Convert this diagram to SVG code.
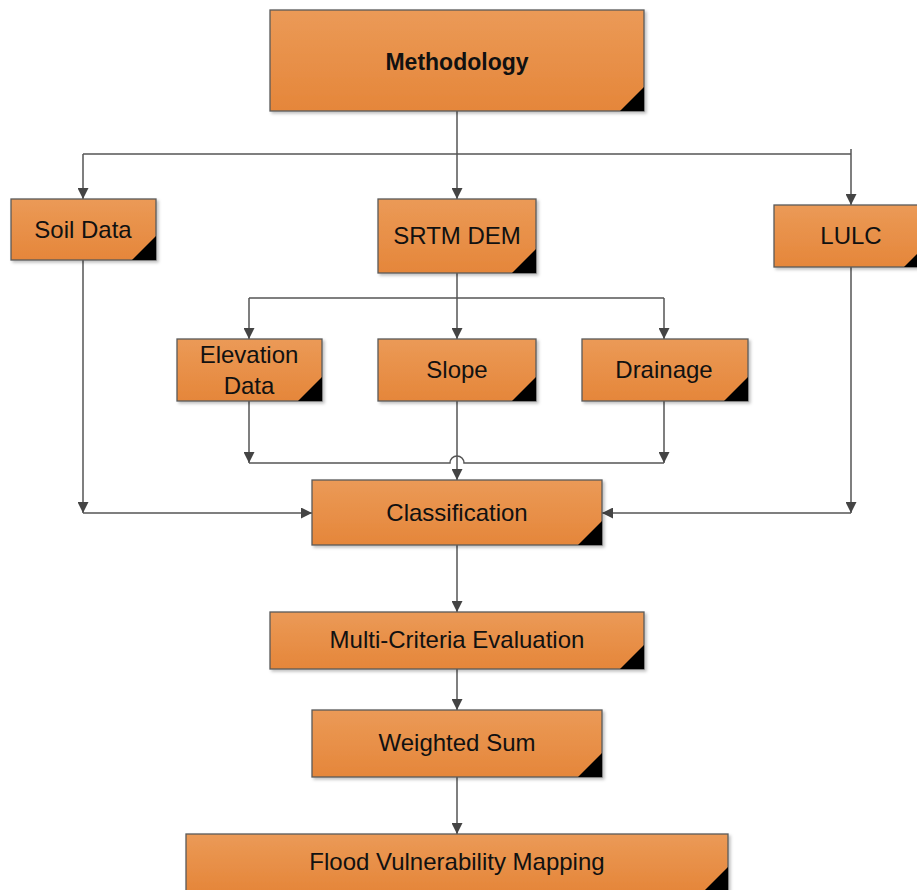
<svg xmlns="http://www.w3.org/2000/svg" width="917" height="890" viewBox="0 0 917 890">
<style>
.box{fill:url(#g);stroke:#5a5a5a;stroke-width:1.3;filter:url(#sh)}
.tri{fill:#000}
.t{font-family:"Liberation Sans",Arial,sans-serif;font-size:24px;fill:#111;text-anchor:middle}
.b{font-weight:bold;font-size:23px}
.c{fill:none;stroke:#555;stroke-width:1.5}
.a{marker-end:url(#ar)}
</style>
<defs>
<linearGradient id="g" x1="0" y1="0" x2="0" y2="1">
<stop offset="0" stop-color="#EB9A57"/>
<stop offset="1" stop-color="#E5863A"/>
</linearGradient>
<filter id="sh" x="-5%" y="-10%" width="115%" height="130%">
<feDropShadow dx="2" dy="2" stdDeviation="1.5" flood-color="#000" flood-opacity="0.25"/>
</filter>
<marker id="ar" viewBox="0 0 10 10" refX="10" refY="5" markerWidth="11" markerHeight="11" markerUnits="userSpaceOnUse" orient="auto">
<path d="M0,0 L10,5 L0,10 z" fill="#444"/>
</marker>
</defs>

<g id="connectors">
<path class="c a" d="M457,111 V199"/>
<path class="c" d="M83,154 H851"/>
<path class="c a" d="M83,154 V199"/>
<path class="c a" d="M851,149 V205"/>
<path class="c a" d="M457,273 V339"/>
<path class="c" d="M249,298 H664"/>
<path class="c a" d="M249,298 V339"/>
<path class="c a" d="M664,298 V339"/>
<path class="c a" d="M249,401 V463"/>
<path class="c a" d="M664,401 V463"/>
<path class="c" d="M249,463 H450 A7,7 0 0 1 464,463 H664"/>
<path class="c a" d="M457,401 V480"/>
<path class="c a" d="M83,260 V513"/>
<path class="c a" d="M83,513 H312"/>
<path class="c a" d="M851,267 V513"/>
<path class="c a" d="M851,513 H602"/>
<path class="c a" d="M457,545 V612"/>
<path class="c a" d="M457,669 V710"/>
<path class="c a" d="M457,777 V834"/>
</g>

<g id="methodology">
<rect class="box" x="270" y="10" width="374" height="101"/>
<polygon class="tri" points="644,87 644,111 620,111"/>
<text class="t b" x="457" y="70">Methodology</text>
</g>

<g id="soil-data">
<rect class="box" x="11" y="199" width="145" height="61"/>
<polygon class="tri" points="156,236 156,260 132,260"/>
<text class="t" x="83" y="238">Soil Data</text>
</g>

<g id="srtm-dem">
<rect class="box" x="378" y="199" width="158" height="74"/>
<polygon class="tri" points="536,249 536,273 512,273"/>
<text class="t" x="457" y="244">SRTM DEM</text>
</g>

<g id="lulc">
<rect class="box" x="774" y="205" width="154" height="62"/>
<polygon class="tri" points="928,243 928,267 904,267"/>
<text class="t" x="851" y="244">LULC</text>
</g>

<g id="elevation-data">
<rect class="box" x="177" y="339" width="145" height="62"/>
<polygon class="tri" points="322,377 322,401 298,401"/>
<text class="t" x="249" y="363">Elevation</text>
<text class="t" x="249" y="394">Data</text>
</g>

<g id="slope">
<rect class="box" x="378" y="339" width="158" height="62"/>
<polygon class="tri" points="536,377 536,401 512,401"/>
<text class="t" x="457" y="378">Slope</text>
</g>

<g id="drainage">
<rect class="box" x="582" y="339" width="166" height="62"/>
<polygon class="tri" points="748,377 748,401 724,401"/>
<text class="t" x="664" y="378">Drainage</text>
</g>

<g id="classification">
<rect class="box" x="312" y="480" width="290" height="65"/>
<polygon class="tri" points="602,521 602,545 578,545"/>
<text class="t" x="457" y="521">Classification</text>
</g>

<g id="multi-criteria">
<rect class="box" x="270" y="612" width="374" height="57"/>
<polygon class="tri" points="644,645 644,669 620,669"/>
<text class="t" x="457" y="648">Multi-Criteria Evaluation</text>
</g>

<g id="weighted-sum">
<rect class="box" x="312" y="710" width="290" height="67"/>
<polygon class="tri" points="602,753 602,777 578,777"/>
<text class="t" x="457" y="751">Weighted Sum</text>
</g>

<g id="flood-mapping">
<rect class="box" x="186" y="834" width="542" height="57"/>
<polygon class="tri" points="728,867 728,891 704,891"/>
<text class="t" x="457" y="870">Flood Vulnerability Mapping</text>
</g>
</svg>
